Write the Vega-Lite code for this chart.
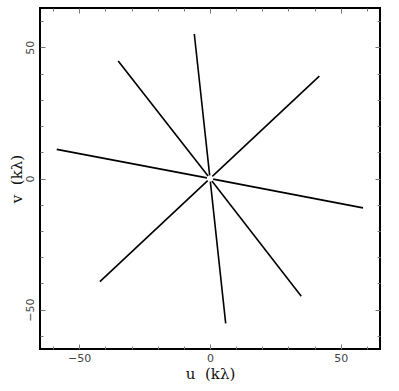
{
  "$schema": "https://vega.github.io/schema/vega-lite/v6.json",
  "width": 340,
  "height": 341,
  "autosize": "none",
  "padding": {"left": 40, "top": 8, "right": 19, "bottom": 42},
  "background": "white",
  "config": {
    "view": {"stroke": "black", "strokeWidth": 2},
    "axis": {
      "grid": false,
      "domain": false,
      "tickColor": "#777",
      "tickWidth": 1,
      "labelColor": "#444",
      "labelFont": "DejaVu Sans",
      "labelFontSize": 11,
      "labelFlush": false,
      "titleFont": "DejaVu Serif",
      "titleFontSize": 15,
      "titleFontWeight": "normal",
      "titleColor": "#111"
    }
  },
  "data": {
    "values": [
      {"u1": -0.13, "v1": 1.19, "u2": -6.0, "v2": 55.1},
      {"u1": 0.13, "v1": -1.19, "u2": 6.0, "v2": -55.2},
      {"u1": -0.74, "v1": 0.95, "u2": -35.1, "v2": 44.8},
      {"u1": 0.74, "v1": -0.95, "u2": 34.9, "v2": -44.9},
      {"u1": 0.88, "v1": 0.82, "u2": 41.8, "v2": 39.0},
      {"u1": -0.88, "v1": -0.82, "u2": -42.1, "v2": -39.3},
      {"u1": -1.18, "v1": 0.23, "u2": -58.6, "v2": 11.1},
      {"u1": 1.18, "v1": -0.23, "u2": 58.5, "v2": -11.2}
    ]
  },
  "resolve": {"axis": {"x": "independent", "y": "independent"}},
  "layer": [
    {
      "mark": {"type": "rule", "color": "black", "strokeWidth": 1.6},
      "encoding": {
        "x": {"field": "u1", "type": "quantitative", "scale": {"domain": [-65, 65], "nice": false, "zero": false},
              "axis": {"orient": "bottom", "values": [-50, 0, 50], "tickSize": -5, "labelPadding": 8, "title": "u\u00a0 (kλ)", "titlePadding": 3}},
        "y": {"field": "v1", "type": "quantitative", "scale": {"domain": [-65, 65], "nice": false, "zero": false},
              "axis": {"orient": "left", "values": [-50, 0, 50], "tickSize": -5, "labelPadding": 10, "labelAngle": -90, "labelAlign": "center", "labelBaseline": "bottom", "title": "v\u00a0 (kλ)", "titlePadding": 0}},
        "x2": {"field": "u2"},
        "y2": {"field": "v2"}
      }
    },
    {
      "mark": {"type": "rule", "opacity": 0},
      "encoding": {
        "x": {"field": "u1", "type": "quantitative", "axis": {"orient": "top", "values": [-50, 0, 50], "tickSize": -5, "labels": false, "title": null}},
        "y": {"field": "v1", "type": "quantitative", "axis": {"orient": "right", "values": [-50, 0, 50], "tickSize": -5, "labels": false, "title": null}}
      }
    },
    {
      "mark": {"type": "rule", "opacity": 0},
      "encoding": {
        "x": {"field": "u1", "type": "quantitative", "axis": {"orient": "bottom", "values": [-60, -40, -30, -20, -10, 10, 20, 30, 40, 60], "tickSize": -3, "labels": false, "title": null}},
        "y": {"field": "v1", "type": "quantitative", "axis": {"orient": "left", "values": [-60, -40, -30, -20, -10, 10, 20, 30, 40, 60], "tickSize": -3, "labels": false, "title": null}}
      }
    },
    {
      "mark": {"type": "rule", "opacity": 0},
      "encoding": {
        "x": {"field": "u1", "type": "quantitative", "axis": {"orient": "top", "values": [-60, -40, -30, -20, -10, 10, 20, 30, 40, 60], "tickSize": -3, "labels": false, "title": null}},
        "y": {"field": "v1", "type": "quantitative", "axis": {"orient": "right", "values": [-60, -40, -30, -20, -10, 10, 20, 30, 40, 60], "tickSize": -3, "labels": false, "title": null}}
      }
    }
  ]
}
